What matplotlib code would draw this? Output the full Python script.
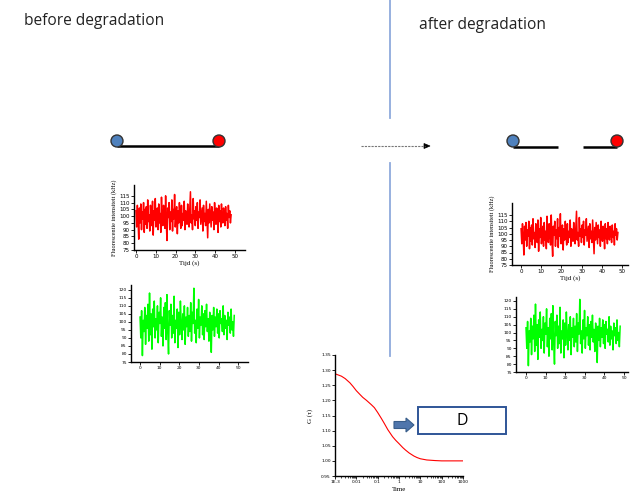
import numpy as np
import matplotlib
matplotlib.use("Agg")
import matplotlib.pyplot as plt
from matplotlib import patches

# ---------------- data ----------------
red_trace = [104, 92, 108, 97, 83, 106, 95, 109, 90, 103, 98, 110, 88, 105, 94, 107, 91, 112, 96, 101,
             89, 108, 99, 93, 111, 86, 104, 97, 113, 92, 100, 106, 90, 109, 95, 102, 88, 114, 97, 93,
             108, 101, 91, 115, 94, 82, 106, 99, 110, 90, 103, 96, 112, 89, 105, 98, 116, 92, 101, 107,
             87, 104, 95, 110, 99, 91, 108, 93, 102, 97, 111, 90, 104, 100, 94, 109, 96, 92, 106, 118,
             95, 101, 90, 113, 98, 104, 93, 107, 97, 110, 91, 103, 99, 112, 94, 100, 106, 89, 108, 96,
             102, 93, 111, 98, 84, 105, 95, 109, 100, 92, 107, 97, 103, 90, 110, 99, 94, 106, 101, 88,
             108, 96, 104, 92, 109, 98, 95, 106, 100, 93, 107, 97, 102, 91, 108, 99, 104, 95, 101]
green_trace = [103, 90, 107, 79, 101, 94, 109, 86, 104, 96, 111, 88, 118, 92, 105, 83, 108, 97, 113, 90,
               102, 95, 110, 87, 106, 99, 115, 91, 103, 85, 109, 96, 112, 89, 117, 94, 80, 107, 98, 111,
               90, 104, 93, 116, 87, 101, 96, 108, 84, 106, 92, 113, 99, 89, 105, 95, 110, 86, 103, 97,
               109, 91, 104, 94, 112, 88, 106, 99, 121, 93, 101, 87, 108, 96, 114, 90, 103, 98, 110, 92,
               105, 89, 107, 97, 111, 94, 102, 88, 106, 100, 81, 104, 95, 109, 91, 103, 97, 108, 93, 105,
               90, 107, 99, 102, 94, 110, 92, 104, 96, 101, 89, 106, 98, 103, 93, 108, 95, 100, 91, 104]
trace_time_max = 48.0
red_yticks = [75, 80, 85, 90, 95, 100, 105, 110, 115]
green_yticks = [75, 80, 85, 90, 95, 100, 105, 110, 115, 120]
time_ticks = [0, 10, 20, 30, 40, 50]

tau = [0.001, 0.002, 0.003, 0.005, 0.007, 0.01, 0.015, 0.02, 0.03, 0.05, 0.07, 0.1, 0.15, 0.2, 0.3,
       0.5, 0.7, 1, 1.5, 2, 3, 5, 7, 10, 20, 50, 100, 300, 1000]
g_tau = [1.288, 1.280, 1.272, 1.258, 1.246, 1.232, 1.219, 1.210, 1.200, 1.186, 1.176, 1.160, 1.140,
         1.125, 1.103, 1.080, 1.068, 1.057, 1.044, 1.036, 1.026, 1.016, 1.011, 1.007, 1.003, 1.001,
         1.000, 1.000, 1.000]
g_yticks = [0.95, 1.00, 1.05, 1.10, 1.15, 1.20, 1.25, 1.30, 1.35]
g_xticks = [1e-3, 1e-2, 1e-1, 1, 10, 100, 1000]
g_xticklabels = ["1E-3", "0.01", "0.1", "1", "10", "100", "1000"]

# ---------------- figure ----------------
W, H = 630, 493
fig = plt.figure(figsize=(W / 100, H / 100), dpi=100)
fig.patch.set_facecolor("white")

# overlay in pixel coordinates
ov = fig.add_axes([0, 0, 1, 1])
ov.set_xlim(0, W)
ov.set_ylim(H, 0)
ov.axis("off")

TXT_FONT = ["Open Sans", "DejaVu Sans"]
ov.text(24, 21, "before degradation", fontsize=11.2, family=TXT_FONT, va="center", ha="left", color="#222222")
ov.text(419, 25, "after degradation", fontsize=11.2, family=TXT_FONT, va="center", ha="left", color="#222222")

# vertical divider
vcol = "#8faadc"
ov.plot([390, 390], [0, 118], color=vcol, lw=1.3)
ov.plot([390, 390], [163, 356], color=vcol, lw=1.3)

# molecules
blue_c, red_c = "#4f81bd", "#ff0000"
ov.plot([117, 219], [146, 146], color="black", lw=1.8, solid_capstyle="butt")
ov.add_patch(patches.Circle((117, 141), 6, fc=blue_c, ec="#333333", lw=1, zorder=3))
ov.add_patch(patches.Circle((219, 141), 6, fc=red_c, ec="#333333", lw=1, zorder=3))

ov.plot([513, 558], [147, 147], color="black", lw=1.8, solid_capstyle="butt")
ov.plot([583, 617], [147, 147], color="black", lw=1.8, solid_capstyle="butt")
ov.add_patch(patches.Circle((513, 141), 6, fc=blue_c, ec="#333333", lw=1, zorder=3))
ov.add_patch(patches.Circle((617, 141), 6, fc=red_c, ec="#333333", lw=1, zorder=3))

# dashed arrow
ov.plot([361, 425], [146, 146], color="#777777", lw=0.8, ls=(0, (2, 1)))
ov.add_patch(patches.Polygon([[424, 143.5], [430, 146], [424, 148.5]], closed=True, fc="black", ec="black", lw=0.5))

# block arrow and D box
ov.add_patch(patches.FancyArrow(394, 425, 20, 0, width=7, head_width=14, head_length=8,
                                length_includes_head=True, fc="#4f76ac", ec="#385d8a", lw=0.8))
ov.add_patch(patches.Rectangle((418, 407), 88, 27, fc="white", ec="#2f5597", lw=1.4))
ov.text(462, 421, "D", fontsize=11.5, family=TXT_FONT, ha="center", va="center", color="black")


def px_axes(x0, x1, y0, y1):
    return fig.add_axes([x0 / W, 1 - y1 / H, (x1 - x0) / W, (y1 - y0) / H])


SERIF = ["Liberation Serif", "DejaVu Serif"]


def style(ax):
    ax.patch.set_alpha(0)
    for s in ["top", "right"]:
        ax.spines[s].set_visible(False)
    for s in ["left", "bottom"]:
        ax.spines[s].set_linewidth(1.0)
        ax.spines[s].set_color("black")
    ax.tick_params(axis="both", length=2, width=0.6, labelsize=3.2, pad=1, direction="out")


def trace_axes(x0, x1, y0, y1, values, color, xlim, ylim, yticks, labels):
    ax = px_axes(x0, x1, y0, y1)
    t = np.linspace(0, trace_time_max, len(values))
    ax.plot(t, values, color=color, lw=1.1)
    ax.set_xlim(*xlim)
    ax.set_ylim(*ylim)
    ax.set_xticks(time_ticks)
    ax.set_yticks(yticks)
    style(ax)
    if labels:
        ax.tick_params(labelsize=4)
        ax.set_ylabel("Fluorescentie intensiteit (kHz)", fontsize=4.5, family=SERIF, labelpad=2)
        ax.set_xlabel("Tijd (s)", fontsize=5, family=SERIF, labelpad=1)
    return ax


trace_axes(134, 245, 185, 250, red_trace, "#ff0000", (-1, 55), (75, 123), red_yticks, True)
trace_axes(131, 248, 285, 362, green_trace, "#00ff00", (-4.6, 55), (75, 123), green_yticks, False)
trace_axes(512, 628, 203, 265, red_trace, "#ff0000", (-4.5, 53), (75, 124.6), red_yticks, True)
trace_axes(516, 628, 297, 372, green_trace, "#00ff00", (-5.1, 52), (75, 122.5), green_yticks, False)

# correlation curve
gax = px_axes(335, 463, 355, 476)
gax.plot(tau, g_tau, color="#ff0000", lw=0.8)
gax.set_xscale("log")
gax.set_xlim(1e-3, 1e3)
gax.set_ylim(0.95, 1.35)
gax.set_xticks(g_xticks)
gax.set_xticklabels(g_xticklabels)
gax.set_yticks(g_yticks)
gax.set_yticklabels(["%.2f" % v for v in g_yticks])
style(gax)
gax.tick_params(axis="x", which="minor", length=1.2, width=0.5)
gax.set_ylabel("G (τ)", fontsize=5, family=SERIF, labelpad=6)
gax.set_xlabel("Time", fontsize=5, family=SERIF, labelpad=2)

fig.savefig("out.png", dpi=100, facecolor="white")
